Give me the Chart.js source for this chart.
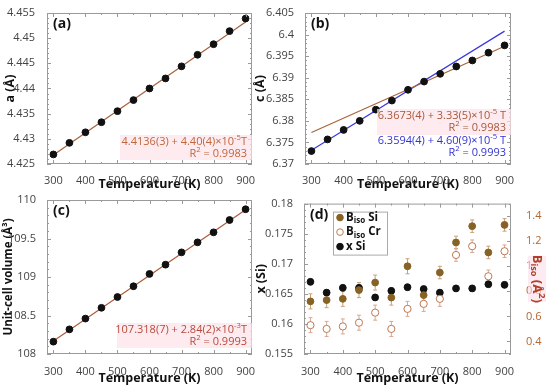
<!DOCTYPE html>
<html>
<head>
<meta charset="utf-8">
<script src="https://cdn.jsdelivr.net/npm/chart.js@4/dist/chart.umd.min.js"></script>
<style>
  body { margin: 0; background: #fff; }
  #wrap { position: relative; width: 550px; height: 387px; overflow: hidden; }
  canvas { position: absolute; }
</style>
</head>
<body>
<div id="wrap">
  <canvas id="ca" width="275" height="193" style="left:0;top:0"></canvas>
  <canvas id="cb" width="298" height="193" style="left:252px;top:0"></canvas>
  <canvas id="cc" width="275" height="197" style="left:0;top:190px"></canvas>
  <canvas id="cd" width="298" height="197" style="left:252px;top:190px"></canvas>
</div>
<script>
// temperatures (K)
const temps = [300, 350, 400, 450, 500, 550, 600, 650, 700, 750, 800, 850, 900];
const xTicks = [300, 400, 500, 600, 700, 800, 900];

// (a) lattice parameter a
const aVals = [4.4269, 4.4292, 4.4313, 4.4333, 4.4355, 4.4377, 4.4400, 4.4420, 4.4444, 4.4467, 4.4488, 4.4514, 4.4539];
const aTicks = [4.425, 4.43, 4.435, 4.44, 4.445, 4.45, 4.455];
const fitT = [300, 900];
const fitA = [4.4268, 4.4532];

// (b) lattice parameter c
const cVals = [6.3730, 6.3757, 6.3779, 6.3800, 6.3826, 6.3847, 6.3872, 6.3891, 6.3909, 6.3926, 6.3940, 6.3958, 6.3975];
const cTicks = [6.37, 6.375, 6.38, 6.385, 6.39, 6.395, 6.4, 6.405];
const fitC1 = [6.3773, 6.3973];   // brown
const fitC2 = [6.3732, 6.4008];   // blue

// (c) unit-cell volume
const volVals = [108.16, 108.32, 108.46, 108.60, 108.74, 108.88, 109.04, 109.16, 109.32, 109.45, 109.58, 109.74, 109.88];
const volTicks = [108, 108.5, 109, 109.5, 110];
const fitV = [108.170, 109.874];

// (d) x(Si) and Biso
const xSi = [0.1670, 0.1652, 0.1660, 0.1660, 0.1644, 0.1655, 0.1661, 0.1658, 0.1652, 0.1659, 0.1659, 0.1666, 0.1665];
const xSiErr = [0.0005, 0.0005, 0.0005, 0.0005, 0.0005, 0.0005, 0.0005, 0.0005, 0.0005, 0.0005, 0.0005, 0.0005, 0.0005];
const bSi = [0.72, 0.73, 0.74, 0.81, 0.87, 0.75, 1.00, 0.77, 0.95, 1.19, 1.32, 1.11, 1.33];
const bSiErr = [0.06, 0.06, 0.06, 0.06, 0.06, 0.06, 0.06, 0.06, 0.05, 0.05, 0.05, 0.05, 0.05];
const bCr = [0.53, 0.50, 0.52, 0.55, 0.63, 0.50, 0.66, 0.70, 0.74, 1.09, 1.16, 0.92, 1.12];
const bCrErr = [0.06, 0.06, 0.06, 0.06, 0.06, 0.06, 0.06, 0.06, 0.06, 0.05, 0.05, 0.05, 0.05];
const xSiTicks = [0.155, 0.16, 0.165, 0.17, 0.175, 0.18];
const bTicks = [0.4, 0.6, 0.8, 1, 1.2, 1.4];

const FONT = '"Open Sans", "DejaVu Sans", sans-serif';

function pts(xs, ys) { return xs.map((x, i) => ({ x: x, y: ys[i] })); }

// little rich-text helper: ^{..} superscript, _{..} subscript
function parts(str) {
  return str.split(/(\^\{[^}]*\}|_\{[^}]*\})/).filter(s => s).map(s => {
    if (s[0] === '^') return { t: s.slice(2, -1), k: 'sup' };
    if (s[0] === '_') return { t: s.slice(2, -1), k: 'sub' };
    return { t: s, k: '' };
  });
}
function richText(ctx, str, x, y, size, weight, color, align) {
  const ps = parts(str);
  const fnt = k => weight + ' ' + (k ? size * 0.7 : size) + 'px ' + FONT;
  let w = 0;
  ps.forEach(p => { ctx.font = fnt(p.k); p.w = ctx.measureText(p.t).width; w += p.w; });
  let cx = align === 'right' ? x - w : align === 'center' ? x - w / 2 : x;
  ctx.fillStyle = color;
  ctx.textBaseline = 'middle';
  ctx.textAlign = 'left';
  ps.forEach(p => {
    ctx.font = fnt(p.k);
    const dy = p.k === 'sup' ? -size * 0.35 : p.k === 'sub' ? size * 0.3 : 0;
    ctx.fillText(p.t, cx, y + dy);
    cx += p.w;
  });
  return w;
}

// frame, inner ticks, panel label, notes, error bars, legend
const deco = {
  id: 'deco',
  beforeDatasetsDraw(chart) {
    const ctx = chart.ctx;
    chart.data.datasets.forEach(ds => {
      if (!ds.errors) return;
      const ys = chart.scales[ds.yAxisID || 'y'];
      const xs = chart.scales.x;
      ctx.save();
      ctx.strokeStyle = ds.errColor;
      ctx.lineWidth = 1;
      ds.data.forEach((p, i) => {
        const px = xs.getPixelForValue(p.x);
        const y1 = ys.getPixelForValue(p.y - ds.errors[i]);
        const y2 = ys.getPixelForValue(p.y + ds.errors[i]);
        ctx.beginPath();
        ctx.moveTo(px, y1); ctx.lineTo(px, y2);
        ctx.moveTo(px - 2, y1); ctx.lineTo(px + 2, y1);
        ctx.moveTo(px - 2, y2); ctx.lineTo(px + 2, y2);
        ctx.stroke();
      });
      ctx.restore();
    });
  },
  afterDraw(chart, args, o) {
    const ctx = chart.ctx;
    const a = chart.chartArea;
    ctx.save();
    // frame
    ctx.strokeStyle = '#9a9a9a';
    ctx.lineWidth = 1;
    ctx.strokeRect(a.left + 0.5, a.top + 0.5, a.right - a.left - 1, a.bottom - a.top - 1);
    // ticks
    ctx.beginPath();
    const xs = chart.scales.x, ys = chart.scales.y;
    for (let v = 300; v <= 920; v += 50) {
      const p = Math.round(xs.getPixelForValue(v)) + 0.5;
      const len = v % 100 === 0 ? 4 : 2;
      ctx.moveTo(p, a.bottom); ctx.lineTo(p, a.bottom - len);
      ctx.moveTo(p, a.top); ctx.lineTo(p, a.top + len);
    }
    const step = o.yStep;
    for (let v = ys.min; v <= ys.max + step / 2; v += step) {
      const p = Math.round(ys.getPixelForValue(v)) + 0.5;
      const k = Math.round((v - ys.min) / step);
      const len = k % o.ySub === 0 ? 4 : 2;
      ctx.moveTo(a.left, p); ctx.lineTo(a.left + len, p);
      if (!o.rightAxis) { ctx.moveTo(a.right, p); ctx.lineTo(a.right - len, p); }
    }
    if (o.rightAxis) {
      const y2 = chart.scales.y2;
      for (let v = 0.3; v <= 1.51; v += 0.1) {
        const p = Math.round(y2.getPixelForValue(v)) + 0.5;
        const len = Math.round(v * 10) % 2 === 0 ? 4 : 2;
        ctx.moveTo(a.right, p); ctx.lineTo(a.right - len, p);
      }
    }
    ctx.stroke();
    // panel label
    ctx.fillStyle = '#111';
    ctx.font = 'bold 14px ' + FONT;
    ctx.textAlign = 'left';
    ctx.textBaseline = 'middle';
    ctx.fillText(o.label, a.left + 6, a.top + 11);
    // fit notes
    (o.notes || []).forEach(n => {
      if (n.bg) {
        ctx.fillStyle = n.bg;
        ctx.fillRect(n.bgBox[0] + a.left, n.bgBox[1] + a.top, n.bgBox[2], n.bgBox[3]);
      }
    });
    (o.notes || []).forEach(n => {
      richText(ctx, n.text, a.right - 5, a.top + n.dy, 11, 'normal', n.color, 'right');
    });
    // legend
    if (o.legend) {
      const lx = a.left + 29, ly = a.top + 8;
      ctx.fillStyle = '#fff';
      ctx.fillRect(lx, ly, 54, 43);
      ctx.strokeStyle = '#aaa';
      ctx.strokeRect(lx + 0.5, ly + 0.5, 54, 43);
      o.legend.forEach((it, i) => {
        const yy = a.top + 14 + i * 14.5;
        ctx.beginPath();
        ctx.arc(a.left + 36, yy, 3.3, 0, Math.PI * 2);
        ctx.fillStyle = it.fill;
        ctx.fill();
        ctx.lineWidth = 1;
        ctx.strokeStyle = it.stroke;
        ctx.stroke();
        richText(ctx, it.text, a.left + 42, yy, 11.5, 'bold', '#111', 'left');
      });
    }
    // right-hand title
    if (o.rightTitle) {
      ctx.translate(chart.width - 13, (a.top + a.bottom) / 2);
      ctx.rotate(Math.PI / 2);
      ctx.fillStyle = 'rgba(252,222,232,0.6)';
      ctx.fillRect(-23, -9, 46, 18);
      richText(ctx, o.rightTitle, 0, 0, 13, 'bold', '#b0402a', 'center');
    }
    ctx.restore();
  }
};
Chart.register(deco);

function fixTicks(list) {
  return scale => { scale.ticks = list.map(v => ({ value: v })); };
}
function fmt(v) { return String(+(+v).toFixed(4)); }

function baseOptions(c) {
  return {
    responsive: false,
    animation: false,
    layout: { padding: c.pad },
    plugins: {
      legend: { display: false },
      tooltip: { enabled: false },
      deco: c.deco
    },
    scales: {
      x: {
        type: 'linear', min: 280, max: 920,
        grid: { display: false }, border: { display: false },
        afterBuildTicks: fixTicks(xTicks),
        afterFit: s => { s.height = c.xHeight; },
        ticks: { color: '#444', font: { family: FONT, size: 11 }, padding: c.xTickPad, maxRotation: 0, callback: fmt },
        title: { display: true, text: 'Temperature (K)', color: '#111', font: { family: FONT, size: 12.5, weight: 'bold' }, padding: { top: 0, bottom: 1 } }
      },
      y: {
        type: 'linear', min: c.yMin, max: c.yMax,
        grid: { display: false }, border: { display: false },
        afterBuildTicks: fixTicks(c.yTicks),
        afterFit: s => { s.width = c.yWidth; },
        ticks: { color: '#444', font: { family: FONT, size: 11 }, padding: c.yTickPad || 4, callback: fmt },
        title: { display: true, text: c.yTitle, color: '#111', font: { family: FONT, size: c.yTitleSize || 12.5, weight: 'bold' }, padding: { top: c.yTitlePad, bottom: 0 } }
      }
    }
  };
}

const dot = { showLine: false, pointRadius: 3.4, pointBackgroundColor: '#111', pointBorderColor: '#111', order: 0 };
const fitLine = (col) => ({ showLine: true, pointRadius: 0, borderColor: col, borderWidth: 1.2, order: 1 });

// (a)
new Chart(document.getElementById('ca'), {
  type: 'scatter',
  data: { datasets: [
    Object.assign({ data: pts(temps, aVals) }, dot),
    Object.assign({ data: pts(fitT, fitA) }, fitLine('#a8603a'))
  ] },
  options: baseOptions({
    pad: { top: 13, right: 23, bottom: 0, left: 0 }, xHeight: 29, xTickPad: 2,
    yMin: 4.425, yMax: 4.455, yTicks: aTicks, yWidth: 47, yTitle: 'a (Å)', yTitlePad: 2.5,
    deco: { label: '(a)', yStep: 0.001, ySub: 5, notes: [
      { text: '4.4136(3) + 4.40(4)×10^{-5}T', color: '#c0663c', dy: 129, bg: 'rgba(252,226,234,0.7)', bgBox: [73, 122, 132, 25] },
      { text: 'R^{2} = 0.9983', color: '#c0663c', dy: 141 }
    ] }
  })
});

// (b)
new Chart(document.getElementById('cb'), {
  type: 'scatter',
  data: { datasets: [
    Object.assign({ data: pts(temps, cVals) }, dot),
    Object.assign({ data: pts(fitT, fitC1) }, fitLine('#a8643c')),
    Object.assign({ data: pts(fitT, fitC2) }, fitLine('#3a3ae0'))
  ] },
  options: baseOptions({
    pad: { top: 13, right: 39, bottom: 0, left: 0 }, xHeight: 29, xTickPad: 2,
    yMin: 6.37, yMax: 6.405, yTicks: cTicks, yWidth: 53, yTickPad: 3, yTitle: 'c (Å)', yTitlePad: 1,
    deco: { label: '(b)', yStep: 0.001, ySub: 5, notes: [
      { text: '6.3673(4) + 3.33(5)×10^{-5} T', color: '#a8583a', dy: 103, bg: 'rgba(252,226,234,0.7)', bgBox: [72, 96, 134, 26] },
      { text: 'R^{2} = 0.9983', color: '#a8583a', dy: 115 },
      { text: '6.3594(4) + 4.60(9)×10^{-5} T', color: '#3232d2', dy: 127.5 },
      { text: 'R^{2} = 0.9993', color: '#3232d2', dy: 140 }
    ] }
  })
});

// (c)
new Chart(document.getElementById('cc'), {
  type: 'scatter',
  data: { datasets: [
    Object.assign({ data: pts(temps, volVals) }, dot),
    Object.assign({ data: pts(fitT, fitV) }, fitLine('#b05a3a'))
  ] },
  options: baseOptions({
    pad: { top: 10, right: 23, bottom: 0, left: 0 }, xHeight: 33, xTickPad: 3,
    yMin: 108, yMax: 110, yTicks: volTicks, yWidth: 47, yTickPad: 3,
    yTitle: 'Unit-cell volume (Å³)', yTitleSize: 11.5, yTitlePad: 2,
    deco: { label: '(c)', yStep: 0.1, ySub: 5, notes: [
      { text: '107.318(7) + 2.84(2)×10^{-3}T', color: '#b84a3a', dy: 130, bg: 'rgba(252,226,234,0.7)', bgBox: [70, 123, 135, 25] },
      { text: 'R^{2} = 0.9993', color: '#b84a3a', dy: 142 }
    ] }
  })
});

// (d)
const optD = baseOptions({
  pad: { top: 10, right: 0, bottom: 0, left: 0 }, xHeight: 33, xTickPad: 3,
  yMin: 0.155, yMax: 0.18, yTicks: xSiTicks, yWidth: 52, yTickPad: 3, yTitle: 'x (Si)', yTitlePad: 2,
  deco: { label: '(d)', yStep: 0.001, ySub: 5, rightAxis: true, rightTitle: 'B_{iso} (Å^{2})', notes: [],
    legend: [
      { text: 'B_{iso} Si', fill: '#866224', stroke: '#866224' },
      { text: 'B_{iso} Cr', fill: '#fff', stroke: '#c07850' },
      { text: 'x Si', fill: '#111', stroke: '#111' }
    ] }
});
optD.scales.y2 = {
  type: 'linear', position: 'right', min: 0.3, max: 1.5,
  grid: { display: false }, border: { display: false },
  afterBuildTicks: fixTicks(bTicks),
  afterFit: s => { s.width = 39; },
  ticks: { color: '#b5652f', font: { family: FONT, size: 11 }, padding: 7, callback: fmt }
};
new Chart(document.getElementById('cd'), {
  type: 'scatter',
  data: { datasets: [
    { data: pts(temps, bSi), yAxisID: 'y2', errors: bSiErr, errColor: '#caa078', showLine: false,
      pointRadius: 3.4, pointBackgroundColor: '#866224', pointBorderColor: '#866224' },
    { data: pts(temps, bCr), yAxisID: 'y2', errors: bCrErr, errColor: '#d8a890', showLine: false,
      pointRadius: 3.6, pointBackgroundColor: '#fff', pointBorderColor: '#c07850', pointBorderWidth: 1 },
    { data: pts(temps, xSi), yAxisID: 'y', errors: xSiErr, errColor: '#888', showLine: false,
      pointRadius: 3.4, pointBackgroundColor: '#111', pointBorderColor: '#111' }
  ] },
  options: optD
});
</script>
</body>
</html>
